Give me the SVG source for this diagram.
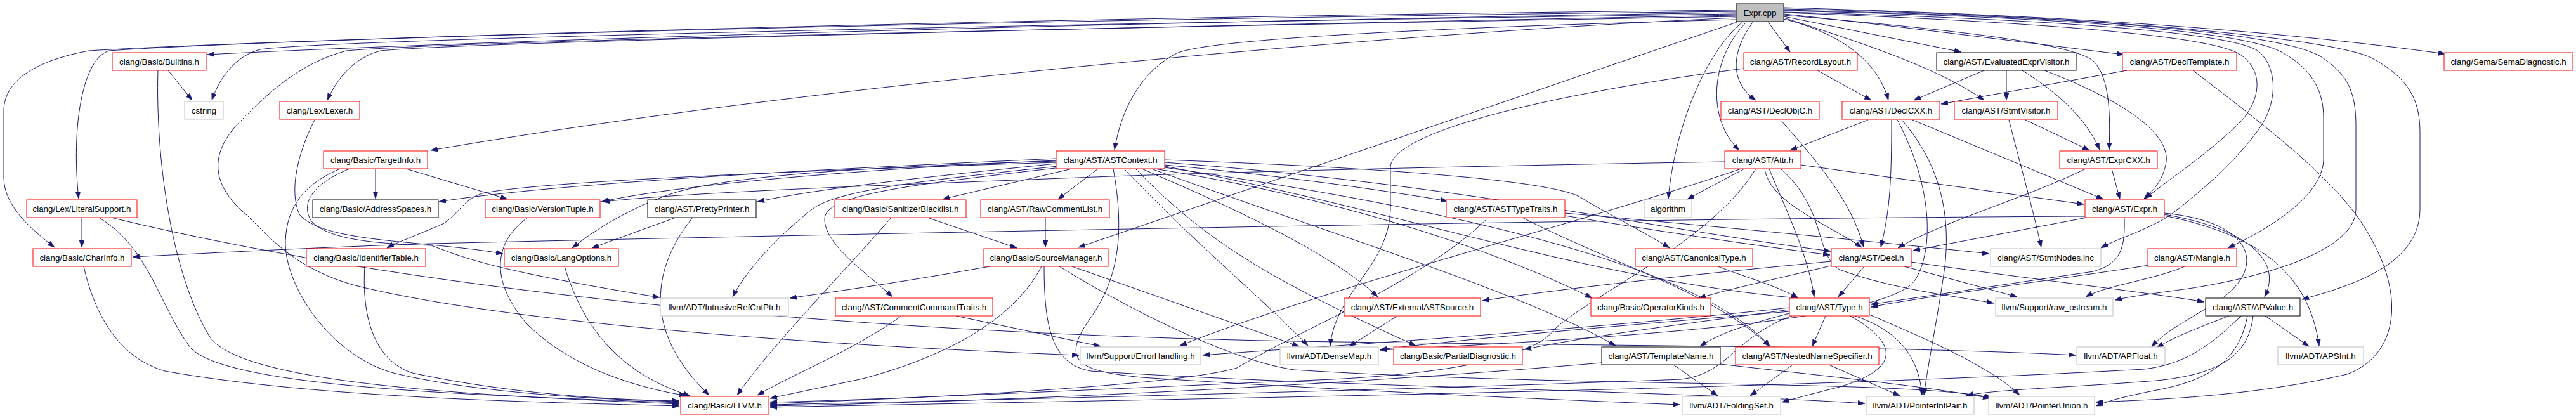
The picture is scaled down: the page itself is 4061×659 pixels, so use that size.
<svg xmlns="http://www.w3.org/2000/svg" width="4061" height="659" viewBox="0 0 4061 659">
<style>
.node rect{fill:#fff;stroke-width:1}
.r rect{stroke:#ff0000}
.b rect{stroke:#000}
.g rect{stroke:#bfbfbf}
.root rect{fill:#bfbfbf;stroke:#000}
.node text{font-family:"Liberation Sans",Arial,Helvetica,sans-serif;font-size:13.33px;fill:#000;text-anchor:middle}
#edges path{fill:none;stroke:#191970;stroke-width:1;marker-end:url(#ah)}
</style>
<defs>
<marker id="ah" viewBox="0 0 11 8" refX="11" refY="4" markerWidth="11" markerHeight="8" markerUnits="userSpaceOnUse" orient="auto">
<path d="M0,0 L11,4 L0,8 z" fill="#191970" stroke="#191970" stroke-width="0.5"/>
</marker>
</defs>
<rect x="0" y="0" width="4061" height="659" fill="#fff"/>
<g id="edges">
<path d="M2737,20 C1800,34 800,62 327,86"/>
<path d="M2737,22 C1600,38 520,62 410,78 C372,88 346,122 334,158"/>
<path d="M2737,18 C1500,32 420,62 172,80 C130,92 112,200 124,313"/>
<path d="M2737,16 C1500,28 360,66 140,80 C60,95 6,125 6,175 L6,280 C6,325 50,362 86,390"/>
<path d="M2737,24 C1600,46 720,68 600,80 C560,90 532,122 516,158"/>
<path d="M2737,28 C2200,52 1300,130 679,237"/>
<path d="M2741,34 L1700,390"/>
<path d="M2737,31 C2300,42 1910,60 1855,84 C1800,112 1768,170 1757,236"/>
<path d="M2737,26 C1600,46 700,66 546,80 C470,100 420,150 380,190 C330,240 330,290 390,340 C430,380 470,425 560,450 C800,510 1300,545 1701,560"/>
<path d="M2787,34 L2822,82"/>
<path d="M2764,34 C2730,80 2725,128 2768,158"/>
<path d="M2754,34 C2698,90 2688,185 2742,237"/>
<path d="M2748,34 C2690,80 2640,200 2630,313"/>
<path d="M2812,30 C2900,52 2960,95 2977,158"/>
<path d="M2812,28 C2950,72 3060,110 3128,158"/>
<path d="M2812,26 L3092,82"/>
<path d="M2812,24 C3100,48 3268,70 3300,96 C3326,122 3327,180 3325,236"/>
<path d="M2812,22 C3000,42 3200,68 3348,86"/>
<path d="M2812,20 C3200,34 3480,55 3530,85 C3572,112 3562,160 3532,192 C3482,242 3420,282 3382,313"/>
<path d="M2812,19 C3300,32 3530,55 3562,82 C3592,110 3590,165 3560,205 C3520,260 3460,310 3420,340 C3380,365 3340,375 3312,391"/>
<path d="M2812,17 C3300,28 3550,52 3600,84 C3650,112 3663,150 3663,185 L3663,250 C3663,300 3600,350 3512,391"/>
<path d="M2812,16 C3300,26 3600,52 3660,90 C3705,120 3714,150 3714,200 L3714,330 C3714,400 3550,440 3450,455 C3400,462 3360,467 3334,473"/>
<path d="M2812,14 C3300,24 3680,60 3740,92 C3800,125 3815,160 3815,210 L3815,330 C3815,420 3700,452 3629,472"/>
<path d="M2812,12 C3300,26 3600,50 3855,85"/>
<path d="M265,111 L303,158"/>
<path d="M249,111 C245,250 270,430 330,530 C380,610 800,625 1071,637"/>
<path d="M129,343 L129,390"/>
<path d="M156,343 C235,390 250,480 300,548 C360,615 800,624 1071,635"/>
<path d="M175,343 C700,470 1400,526 2040,538 C2600,546 3000,546 3272,560"/>
<path d="M132,420 C150,500 190,565 260,585 C500,628 850,634 1071,640"/>
<path d="M592,266 L592,313"/>
<path d="M640,266 L800,314"/>
<path d="M536,266 C480,290 452,325 450,380 C448,450 520,560 620,588 C750,620 950,630 1071,633"/>
<path d="M551,266 C492,290 472,322 492,350 C522,380 600,384 680,387 C740,410 790,428 1040,469"/>
<path d="M496,189 C470,240 455,300 472,338 C500,372 600,378 680,386 C720,390 760,394 793,400"/>
<path d="M575,420 C570,500 590,568 650,588 C800,620 950,630 1071,632"/>
<path d="M832,343 C780,380 770,440 830,510 C900,580 1000,610 1082,624"/>
<path d="M890,420 C920,520 980,590 1088,624"/>
<path d="M1065,343 L933,391"/>
<path d="M1092,343 C1030,420 1010,520 1118,623"/>
<path d="M1462,343 L1603,391"/>
<path d="M1405,343 C1330,430 1220,540 1162,623"/>
<path d="M1648,343 L1648,390"/>
<path d="M1560,420 C1450,440 1350,455 1245,470"/>
<path d="M1642,420 C1600,500 1500,560 1360,597 C1300,610 1250,620 1214,628"/>
<path d="M1646,420 C1646,520 1660,575 1720,585 C2100,610 2600,615 2940,636"/>
<path d="M1690,420 L2048,546"/>
<path d="M1670,420 C1800,500 1950,570 2040,583 C2500,612 3000,598 3140,627"/>
<path d="M1665,250 C1400,262 900,285 692,318"/>
<path d="M1665,253 C1450,262 1100,285 948,318"/>
<path d="M1665,258 C1500,275 1300,295 1194,318"/>
<path d="M1665,256 C1300,268 850,285 760,305 C730,315 725,335 700,352 C660,370 630,380 610,391"/>
<path d="M1665,254 C1400,262 1150,275 1060,305 C1000,325 940,360 902,391"/>
<path d="M1668,262 C1450,285 1320,300 1280,330 C1230,370 1180,420 1155,468"/>
<path d="M1672,264 C1450,290 1300,305 1300,345 C1300,385 1360,425 1407,468"/>
<path d="M1690,266 L1486,314"/>
<path d="M1731,266 L1668,314"/>
<path d="M1836,260 C2000,275 2150,295 2282,317"/>
<path d="M1836,252 C2200,265 2440,285 2490,310 C2530,335 2600,370 2632,391"/>
<path d="M1836,256 C2300,290 2600,360 2886,396"/>
<path d="M1836,262 C2200,330 2500,440 2834,470"/>
<path d="M1800,266 C1950,330 2100,400 2172,468"/>
<path d="M1820,266 C2100,310 2350,390 2510,470"/>
<path d="M1790,266 C1900,380 2000,440 2232,545"/>
<path d="M1772,266 C1880,380 2000,480 2062,545"/>
<path d="M1815,266 C2100,370 2400,460 2547,545"/>
<path d="M1836,264 C2300,330 2680,420 2790,546"/>
<path d="M1755,266 C1770,350 1770,430 1720,500 C1670,570 1700,585 1800,595 C2100,615 2450,630 2648,638"/>
<path d="M2719,255 C2300,262 1900,272 1700,280 C1400,292 1100,302 950,318"/>
<path d="M2782,266 C2790,320 2880,352 2935,390"/>
<path d="M2789,266 C2815,330 2850,400 2860,468"/>
<path d="M2807,266 C2880,330 2860,400 2900,425 C2980,455 3070,465 3143,478"/>
<path d="M2839,260 L3285,322"/>
<path d="M2750,266 L2660,314"/>
<path d="M2768,266 C2700,380 2500,470 2450,520 C2420,560 2300,588 2100,598 C1700,615 1400,630 1214,634"/>
<path d="M2745,266 C2500,350 2100,450 1860,545"/>
<path d="M2945,189 L2822,237"/>
<path d="M2982,189 C2982,280 2980,330 2965,390"/>
<path d="M3015,189 L3316,314"/>
<path d="M2991,189 C3045,290 3050,390 3020,440 C2980,510 2500,535 2176,552"/>
<path d="M2998,189 C3060,260 3075,340 3066,420 C3055,500 3040,570 3033,623"/>
<path d="M2807,189 C2870,260 2920,320 2938,390"/>
<path d="M2865,111 L2950,158"/>
<path d="M2749,108 C2500,140 2200,200 2192,262 L2192,330 C2190,420 2105,460 2097,545"/>
<path d="M3128,111 L3017,158"/>
<path d="M3163,111 L3163,158"/>
<path d="M3188,111 C3250,150 3290,190 3310,236"/>
<path d="M3223,111 C3350,160 3420,210 3415,255 C3410,285 3395,300 3380,313"/>
<path d="M3353,111 L3060,164"/>
<path d="M3457,111 C3600,220 3700,300 3740,380 C3790,470 3780,560 3700,590 C3550,625 3400,630 3304,634"/>
<path d="M3193,189 L3294,237"/>
<path d="M3167,189 C3185,260 3205,330 3218,390"/>
<path d="M3288,266 C3200,310 3060,350 2992,391"/>
<path d="M3329,266 L3342,314"/>
<path d="M3290,341 C2600,344 1500,365 680,384 C500,390 350,398 209,405"/>
<path d="M3290,343 L3016,395"/>
<path d="M3349,343 C3350,390 3345,415 3300,428 C3150,450 3050,465 2949,480"/>
<path d="M3412,336 C3560,350 3580,430 3480,485 C3440,510 3410,525 3392,547"/>
<path d="M3412,338 C3540,360 3600,410 3570,468"/>
<path d="M3412,340 C3560,370 3640,430 3656,545"/>
<path d="M3388,418 C3250,440 3050,465 2949,484"/>
<path d="M3444,420 C3400,440 3320,450 3288,468"/>
<path d="M2939,420 L2898,468"/>
<path d="M3002,420 L3180,468"/>
<path d="M3013,413 C3200,440 3380,460 3475,476"/>
<path d="M2887,412 C2700,430 2500,450 2337,474"/>
<path d="M2890,418 C2800,440 2740,452 2678,470"/>
<path d="M2708,420 C2760,440 2800,450 2835,470"/>
<path d="M2878,498 L2857,546"/>
<path d="M2917,498 C2990,540 3000,580 2900,610 C2860,620 2830,628 2809,634"/>
<path d="M2924,498 C2990,520 3025,560 3030,623"/>
<path d="M2947,496 C3050,540 3140,580 3184,623"/>
<path d="M2821,494 C2760,510 2710,525 2680,546"/>
<path d="M2821,488 C2700,505 2500,530 2403,551"/>
<path d="M2821,491 C2600,510 2350,530 2176,551"/>
<path d="M2825,498 C2735,530 2725,590 2650,598 C2300,612 1600,630 1214,638"/>
<path d="M2821,485 C2500,520 2100,545 1896,560"/>
<path d="M2826,575 L2759,624"/>
<path d="M2883,575 L2995,624"/>
<path d="M2638,575 L2708,624"/>
<path d="M2525,572 C2200,600 1700,630 1214,640"/>
<path d="M2712,574 C2850,590 3050,610 3137,628"/>
<path d="M3514,498 C3470,515 3430,530 3400,548"/>
<path d="M3571,498 L3640,546"/>
<path d="M3533,498 C3480,550 3440,575 3380,582 C2800,615 1800,630 1214,642"/>
<path d="M3543,498 C3530,570 3480,600 3400,615 C3350,625 3330,630 3304,640"/>
<path d="M3552,498 C3545,560 3500,590 3400,600 C3250,612 3140,614 3100,624"/>
<path d="M1507,498 L1735,546"/>
<path d="M1421,498 C1350,550 1250,590 1194,623"/>
<path d="M2203,498 L2127,546"/>
<path d="M2467,336 C2650,352 2950,380 3136,400"/>
<path d="M2467,340 C2600,362 2750,385 2885,402"/>
<path d="M2346,343 C2250,440 2050,520 1950,580 C1850,610 1400,630 1214,636"/>
<path d="M2400,343 C2550,420 2700,460 2790,546"/>
</g>
<g id="n_expr_cpp" class="node root"><rect x="2737" y="6" width="75" height="28"/><text x="2774.5" y="24.5">Expr.cpp</text></g>
<g id="n_builtins" class="node r"><rect x="177" y="83" width="148" height="28"/><text x="251" y="101.5">clang/Basic/Builtins.h</text></g>
<g id="n_recordlayout" class="node r"><rect x="2749" y="83" width="179" height="28"/><text x="2838.5" y="101.5">clang/AST/RecordLayout.h</text></g>
<g id="n_evalvisitor" class="node b"><rect x="3053" y="83" width="220" height="28"/><text x="3163" y="101.5">clang/AST/EvaluatedExprVisitor.h</text></g>
<g id="n_decltemplate" class="node r"><rect x="3346" y="83" width="180" height="28"/><text x="3436" y="101.5">clang/AST/DeclTemplate.h</text></g>
<g id="n_semadiag" class="node r"><rect x="3853" y="83" width="203" height="28"/><text x="3954.5" y="101.5">clang/Sema/SemaDiagnostic.h</text></g>
<g id="n_cstring" class="node g"><rect x="291" y="160" width="61" height="28"/><text x="321.5" y="178.5">cstring</text></g>
<g id="n_lexer" class="node r"><rect x="441" y="160" width="126" height="28"/><text x="504" y="178.5">clang/Lex/Lexer.h</text></g>
<g id="n_declobjc" class="node r"><rect x="2713" y="160" width="155" height="28"/><text x="2790.5" y="178.5">clang/AST/DeclObjC.h</text></g>
<g id="n_declcxx" class="node r"><rect x="2904" y="160" width="154" height="28"/><text x="2981" y="178.5">clang/AST/DeclCXX.h</text></g>
<g id="n_stmtvisitor" class="node r"><rect x="3081" y="160" width="163" height="28"/><text x="3162.5" y="178.5">clang/AST/StmtVisitor.h</text></g>
<g id="n_targetinfo" class="node r"><rect x="510" y="238" width="164" height="28"/><text x="592" y="256.5">clang/Basic/TargetInfo.h</text></g>
<g id="n_astcontext" class="node r"><rect x="1665" y="238" width="171" height="28"/><text x="1750.5" y="256.5">clang/AST/ASTContext.h</text></g>
<g id="n_attr" class="node r"><rect x="2719" y="238" width="120" height="28"/><text x="2779" y="256.5">clang/AST/Attr.h</text></g>
<g id="n_exprcxx" class="node r"><rect x="3247" y="238" width="154" height="28"/><text x="3324" y="256.5">clang/AST/ExprCXX.h</text></g>
<g id="n_literalsupport" class="node r"><rect x="42" y="315" width="174" height="28"/><text x="129" y="333.5">clang/Lex/LiteralSupport.h</text></g>
<g id="n_addressspaces" class="node b"><rect x="493" y="315" width="198" height="28"/><text x="592" y="333.5">clang/Basic/AddressSpaces.h</text></g>
<g id="n_versiontuple" class="node r"><rect x="765" y="315" width="181" height="28"/><text x="855.5" y="333.5">clang/Basic/VersionTuple.h</text></g>
<g id="n_prettyprinter" class="node b"><rect x="1021" y="315" width="171" height="28"/><text x="1106.5" y="333.5">clang/AST/PrettyPrinter.h</text></g>
<g id="n_sanitizerblacklist" class="node r"><rect x="1316" y="315" width="207" height="28"/><text x="1419.5" y="333.5">clang/Basic/SanitizerBlacklist.h</text></g>
<g id="n_rawcommentlist" class="node r"><rect x="1546" y="315" width="203" height="28"/><text x="1647.5" y="333.5">clang/AST/RawCommentList.h</text></g>
<g id="n_asttypetraits" class="node r"><rect x="2280" y="315" width="187" height="28"/><text x="2373.5" y="333.5">clang/AST/ASTTypeTraits.h</text></g>
<g id="n_algorithm" class="node g"><rect x="2592" y="315" width="75" height="28"/><text x="2629.5" y="333.5">algorithm</text></g>
<g id="n_expr_h" class="node r"><rect x="3287" y="315" width="125" height="28"/><text x="3349.5" y="333.5">clang/AST/Expr.h</text></g>
<g id="n_charinfo" class="node r"><rect x="52" y="392" width="155" height="28"/><text x="129.5" y="410.5">clang/Basic/CharInfo.h</text></g>
<g id="n_identifiertable" class="node r"><rect x="483" y="392" width="188" height="28"/><text x="577" y="410.5">clang/Basic/IdentifierTable.h</text></g>
<g id="n_langoptions" class="node r"><rect x="795" y="392" width="180" height="28"/><text x="885" y="410.5">clang/Basic/LangOptions.h</text></g>
<g id="n_sourcemanager" class="node r"><rect x="1551" y="392" width="196" height="28"/><text x="1649" y="410.5">clang/Basic/SourceManager.h</text></g>
<g id="n_canonicaltype" class="node r"><rect x="2578" y="392" width="185" height="28"/><text x="2670.5" y="410.5">clang/AST/CanonicalType.h</text></g>
<g id="n_decl_h" class="node r"><rect x="2887" y="392" width="126" height="28"/><text x="2950" y="410.5">clang/AST/Decl.h</text></g>
<g id="n_stmtnodes" class="node g"><rect x="3138" y="392" width="174" height="28"/><text x="3225" y="410.5">clang/AST/StmtNodes.inc</text></g>
<g id="n_mangle" class="node r"><rect x="3386" y="392" width="140" height="28"/><text x="3456" y="410.5">clang/AST/Mangle.h</text></g>
<g id="n_intrusiverefcntptr" class="node g"><rect x="1041" y="470" width="202" height="28"/><text x="1142" y="488.5">llvm/ADT/IntrusiveRefCntPtr.h</text></g>
<g id="n_commentcommandtraits" class="node r"><rect x="1317" y="470" width="248" height="28"/><text x="1441" y="488.5">clang/AST/CommentCommandTraits.h</text></g>
<g id="n_externalastsource" class="node r"><rect x="2119" y="470" width="215" height="28"/><text x="2226.5" y="488.5">clang/AST/ExternalASTSource.h</text></g>
<g id="n_operatorkinds" class="node r"><rect x="2508" y="470" width="189" height="28"/><text x="2602.5" y="488.5">clang/Basic/OperatorKinds.h</text></g>
<g id="n_type_h" class="node r"><rect x="2821" y="470" width="126" height="28"/><text x="2884" y="488.5">clang/AST/Type.h</text></g>
<g id="n_raw_ostream" class="node g"><rect x="3146" y="470" width="185" height="28"/><text x="3238.5" y="488.5">llvm/Support/raw_ostream.h</text></g>
<g id="n_apvalue" class="node b"><rect x="3477" y="470" width="149" height="28"/><text x="3551.5" y="488.5">clang/AST/APValue.h</text></g>
<g id="n_errorhandling" class="node g"><rect x="1703" y="547" width="190" height="28"/><text x="1798" y="565.5">llvm/Support/ErrorHandling.h</text></g>
<g id="n_densemap" class="node g"><rect x="2018" y="547" width="155" height="28"/><text x="2095.5" y="565.5">llvm/ADT/DenseMap.h</text></g>
<g id="n_partialdiagnostic" class="node r"><rect x="2197" y="547" width="203" height="28"/><text x="2298.5" y="565.5">clang/Basic/PartialDiagnostic.h</text></g>
<g id="n_templatename" class="node b"><rect x="2525" y="547" width="187" height="28"/><text x="2618.5" y="565.5">clang/AST/TemplateName.h</text></g>
<g id="n_nestednamespecifier" class="node r"><rect x="2736" y="547" width="226" height="28"/><text x="2849" y="565.5">clang/AST/NestedNameSpecifier.h</text></g>
<g id="n_apfloat" class="node g"><rect x="3274" y="547" width="139" height="28"/><text x="3343.5" y="565.5">llvm/ADT/APFloat.h</text></g>
<g id="n_apsint" class="node g"><rect x="3591" y="547" width="135" height="28"/><text x="3658.5" y="565.5">llvm/ADT/APSInt.h</text></g>
<g id="n_llvm_h" class="node r"><rect x="1073" y="625" width="139" height="28"/><text x="1142.5" y="643.5">clang/Basic/LLVM.h</text></g>
<g id="n_foldingset" class="node g"><rect x="2652" y="625" width="155" height="28"/><text x="2729.5" y="643.5">llvm/ADT/FoldingSet.h</text></g>
<g id="n_pointerintpair" class="node g"><rect x="2942" y="625" width="170" height="28"/><text x="3027" y="643.5">llvm/ADT/PointerIntPair.h</text></g>
<g id="n_pointerunion" class="node g"><rect x="3135" y="625" width="167" height="28"/><text x="3218.5" y="643.5">llvm/ADT/PointerUnion.h</text></g>
</svg>
